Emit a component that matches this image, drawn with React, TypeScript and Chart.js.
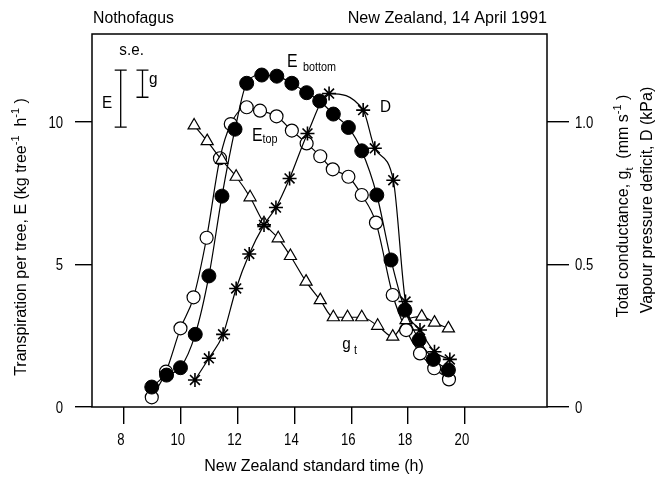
import React, { useEffect, useRef } from "react";
import { Chart, registerables } from "chart.js";

Chart.register(...registerables);

const FONT = "'Liberation Sans', Arial, Helvetica, sans-serif";

// Transpiration of the lower crown, E (kg tree^-1 h^-1) against time of day (h, NZST)
const timeEBottom = [8.98, 9.5, 9.99, 10.51, 10.99, 11.45, 11.91, 12.32, 12.85, 13.38, 13.91, 14.43, 14.89, 15.37, 15.9, 16.37, 16.9, 17.4, 17.89, 18.39, 18.89, 19.42];
const eBottom = [0.7, 1.12, 1.38, 2.55, 4.6, 7.4, 9.75, 11.36, 11.65, 11.61, 11.36, 11.03, 10.74, 10.28, 9.81, 8.99, 7.44, 5.16, 3.4, 2.35, 1.67, 1.3];

// Transpiration of the upper crown
const timeETop = [8.98, 9.48, 9.99, 10.45, 10.91, 11.38, 11.76, 12.32, 12.79, 13.37, 13.91, 14.43, 14.91, 15.35, 15.9, 16.37, 16.87, 17.46, 17.93, 18.42, 18.92, 19.44];
const eTop = [0.34, 1.24, 2.76, 3.85, 5.94, 8.73, 9.93, 10.52, 10.4, 10.2, 9.7, 9.25, 8.8, 8.34, 8.08, 7.44, 6.47, 3.93, 2.7, 1.88, 1.36, 0.97];

// Total conductance g_t (mm s^-1)
const timeG = [10.47, 10.93, 11.44, 11.95, 12.44, 12.93, 13.43, 13.86, 14.41, 14.91, 15.37, 15.87, 16.37, 16.93, 17.46, 17.93, 18.48, 18.93, 19.42];
const gT = [0.988, 0.933, 0.867, 0.808, 0.736, 0.645, 0.592, 0.53, 0.44, 0.375, 0.315, 0.315, 0.315, 0.285, 0.247, 0.305, 0.317, 0.296, 0.276];

// Vapour pressure deficit D (kPa)
const timeD = [10.5, 10.99, 11.49, 11.95, 12.41, 12.93, 13.35, 13.83, 14.46, 15.22, 16.42, 16.83, 17.48, 17.91, 18.42, 18.93, 19.47];
const vpd = [0.095, 0.171, 0.255, 0.416, 0.537, 0.639, 0.7, 0.802, 0.96, 1.1, 1.042, 0.908, 0.796, 0.37, 0.27, 0.194, 0.167];

// Axes
const xTicks = [8, 10, 12, 14, 16, 18, 20];
const eTicks = [0, 5, 10];
const rightTicks = [0, 0.5, 1.0];
const rightTickLabels = ["0", "0.5", "1.0"];
const X_MIN = 6.876;
const X_MAX = 22.89;
const E_MAX = 13.09;
const R_MAX = 1.309;

// Standard errors shown in the key
const SE_E = 2.0; // kg tree^-1 h^-1
const SE_G = 0.095; // mm s^-1

type Run = { t: string; v?: "sup" | "sub" };

function drawRuns(
  ctx: CanvasRenderingContext2D,
  runs: Run[],
  x: number,
  y: number,
  size: number,
  align: "left" | "center" | "right",
  sx = 1,
  rot = 0
) {
  ctx.save();
  ctx.translate(x, y);
  if (rot) ctx.rotate(rot);
  ctx.scale(sx, 1);
  const small = Math.round(size * 0.66);
  let total = 0;
  const widths = runs.map((r) => {
    ctx.font = `${r.v ? small : size}px ${FONT}`;
    const w = ctx.measureText(r.t).width;
    total += w;
    return w;
  });
  let cx = align === "left" ? 0 : align === "center" ? -total / 2 : -total;
  ctx.fillStyle = "#000";
  ctx.textAlign = "left";
  ctx.textBaseline = "alphabetic";
  runs.forEach((r, i) => {
    ctx.font = `${r.v ? small : size}px ${FONT}`;
    const dy = r.v === "sup" ? -size * 0.42 : r.v === "sub" ? size * 0.3 : 0;
    ctx.fillText(r.t, cx, dy);
    cx += widths[i];
  });
  ctx.restore();
}

const pairs = (xs: number[], ys: number[]) => xs.map((x, i) => ({ x, y: ys[i] }));

const decorations = {
  id: "decorations",
  afterDraw(chart: any) {
    const { ctx, chartArea } = chart;
    const sx = chart.scales.x;
    const sy = chart.scales.y;
    const sr = chart.scales.y2;
    const px = (v: number) => sx.getPixelForValue(v);
    const py = (v: number) => sy.getPixelForValue(v);
    const pr = (v: number) => sr.getPixelForValue(v);

    ctx.save();
    // frame
    ctx.strokeStyle = "#000";
    ctx.lineWidth = 1.5;
    ctx.strokeRect(chartArea.left, chartArea.top, chartArea.right - chartArea.left, chartArea.bottom - chartArea.top);

    // tick labels
    xTicks.forEach((v) => drawRuns(ctx, [{ t: String(v) }], px(v) - 3, chartArea.bottom + 38, 16, "center", 0.82));
    eTicks.forEach((v) => drawRuns(ctx, [{ t: String(v) }], chartArea.left - 29, py(v) + 5.5, 16, "right", 0.82));
    rightTicks.forEach((v, i) => drawRuns(ctx, [{ t: rightTickLabels[i] }], chartArea.right + 28, pr(v) + 5.5, 16, "left", 0.82));

    // header
    drawRuns(ctx, [{ t: "Nothofagus" }], chartArea.left + 1, 23, 17, "left", 0.93);
    drawRuns(ctx, [{ t: "New Zealand, 14 April 1991" }], chartArea.right, 23, 17, "right", 0.95);

    // axis titles
    drawRuns(ctx, [{ t: "New Zealand standard time (h)" }], 314, 471, 16, "center", 1);
    drawRuns(
      ctx,
      [{ t: "Transpiration per tree, E (kg tree" }, { t: "-1", v: "sup" }, { t: "  h" }, { t: "-1", v: "sup" }, { t: " )" }],
      26,
      237,
      16,
      "center",
      1,
      -Math.PI / 2
    );
    drawRuns(
      ctx,
      [{ t: "Total conductance, g" }, { t: "t", v: "sub" }, { t: "  (mm s" }, { t: "-1", v: "sup" }, { t: " )" }],
      628,
      206,
      16,
      "center",
      1,
      -Math.PI / 2
    );
    drawRuns(ctx, [{ t: "Vapour pressure deficit, D (kPa)" }], 652, 200, 16, "center", 1, -Math.PI / 2);

    // standard error key
    const bar = (x: number, top: number, bottom: number) => {
      ctx.beginPath();
      ctx.moveTo(x, top);
      ctx.lineTo(x, bottom);
      ctx.moveTo(x - 6, top);
      ctx.lineTo(x + 6, top);
      ctx.moveTo(x - 6, bottom);
      ctx.lineTo(x + 6, bottom);
      ctx.stroke();
    };
    ctx.lineWidth = 1.3;
    const keyTop = 11.82;
    bar(px(7.886), py(keyTop), py(keyTop - SE_E));
    bar(px(8.653), pr(keyTop / 10), pr(keyTop / 10 - SE_G));
    drawRuns(ctx, [{ t: "s.e." }], px(8.27), py(12.35), 16, "center", 0.95);
    drawRuns(ctx, [{ t: "E" }], px(7.228), py(10.49), 17, "left", 0.9);
    drawRuns(ctx, [{ t: "g" }], px(8.88), py(11.33), 17, "left", 0.9);

    // series labels
    drawRuns(ctx, [{ t: "E" }], px(13.74), py(11.93), 18, "left", 0.88);
    drawRuns(ctx, [{ t: "bottom" }], px(14.3), py(11.79), 12, "left", 0.9);
    drawRuns(ctx, [{ t: "E" }], px(12.51), py(9.33), 18, "left", 0.88);
    drawRuns(ctx, [{ t: "top" }], px(12.88), py(9.26), 12, "left", 0.9);
    drawRuns(ctx, [{ t: "D" }], px(17.01), py(10.35), 17, "left", 0.9);
    drawRuns(ctx, [{ t: "g" }], px(15.68), py(2.035), 17, "left", 0.9);
    drawRuns(ctx, [{ t: "t" }], px(16.1), py(1.86), 12, "left", 0.9);
    ctx.restore();
  },
};

const tickGrid = (len: number) => ({
  drawOnChartArea: false,
  drawTicks: true,
  tickLength: len,
  color: "#000",
  lineWidth: 1.4,
});

export default function App() {
  const ref = useRef<HTMLCanvasElement | null>(null);

  useEffect(() => {
    if (!ref.current) return;
    const line = { borderColor: "#000", borderWidth: 1.2, showLine: true, fill: false, cubicInterpolationMode: "monotone" as const };
    const chart = new Chart(ref.current, {
      type: "scatter",
      data: {
        datasets: [
          {
            ...line,
            label: "D",
            data: pairs(timeD, vpd),
            yAxisID: "y2",
            pointStyle: "star",
            pointRadius: 7,
            pointBorderWidth: 1.6,
            pointBorderColor: "#000",
            pointBackgroundColor: "#000",
            order: 0,
          },
          {
            ...line,
            label: "E bottom",
            data: pairs(timeEBottom, eBottom),
            yAxisID: "y",
            pointStyle: "circle",
            pointRadius: 7,
            pointBorderWidth: 1,
            pointBorderColor: "#000",
            pointBackgroundColor: "#000",
            order: 1,
          },
          {
            ...line,
            label: "g t",
            data: pairs(timeG, gT),
            yAxisID: "y2",
            pointStyle: "triangle",
            pointRadius: 7,
            pointBorderWidth: 1.2,
            pointBorderColor: "#000",
            pointBackgroundColor: "#fff",
            order: 2,
          },
          {
            ...line,
            label: "E top",
            data: pairs(timeETop, eTop),
            yAxisID: "y",
            pointStyle: "circle",
            pointRadius: 6.5,
            pointBorderWidth: 1.2,
            pointBorderColor: "#000",
            pointBackgroundColor: "#fff",
            order: 3,
          },
        ],
      },
      options: {
        responsive: false,
        animation: false,
        events: [],
        layout: { padding: { top: 34, left: 0, right: 0, bottom: 0 } },
        plugins: { legend: { display: false }, tooltip: { enabled: false } },
        scales: {
          x: {
            type: "linear",
            min: X_MIN,
            max: X_MAX,
            afterBuildTicks: (s: any) => {
              s.ticks = xTicks.map((value) => ({ value }));
            },
            afterFit: (s: any) => {
              s.height = 70;
            },
            grid: tickGrid(17),
            border: { display: false },
            ticks: { display: false },
          },
          y: {
            type: "linear",
            position: "left",
            min: 0,
            max: E_MAX,
            afterBuildTicks: (s: any) => {
              s.ticks = eTicks.map((value) => ({ value }));
            },
            afterFit: (s: any) => {
              s.width = 92;
            },
            grid: tickGrid(17),
            border: { display: false },
            ticks: { display: false },
          },
          y2: {
            type: "linear",
            position: "right",
            min: 0,
            max: R_MAX,
            afterBuildTicks: (s: any) => {
              s.ticks = rightTicks.map((value) => ({ value }));
            },
            afterFit: (s: any) => {
              s.width = 112;
            },
            grid: tickGrid(22),
            border: { display: false },
            ticks: { display: false },
          },
        },
      },
      plugins: [decorations],
    });
    return () => chart.destroy();
  }, []);

  return (
    <div style={{ position: "fixed", left: 0, top: 0, width: 659, height: 477, background: "#fff" }}>
      <canvas ref={ref} width={659} height={477} style={{ width: 659, height: 477, display: "block" }} />
    </div>
  );
}
